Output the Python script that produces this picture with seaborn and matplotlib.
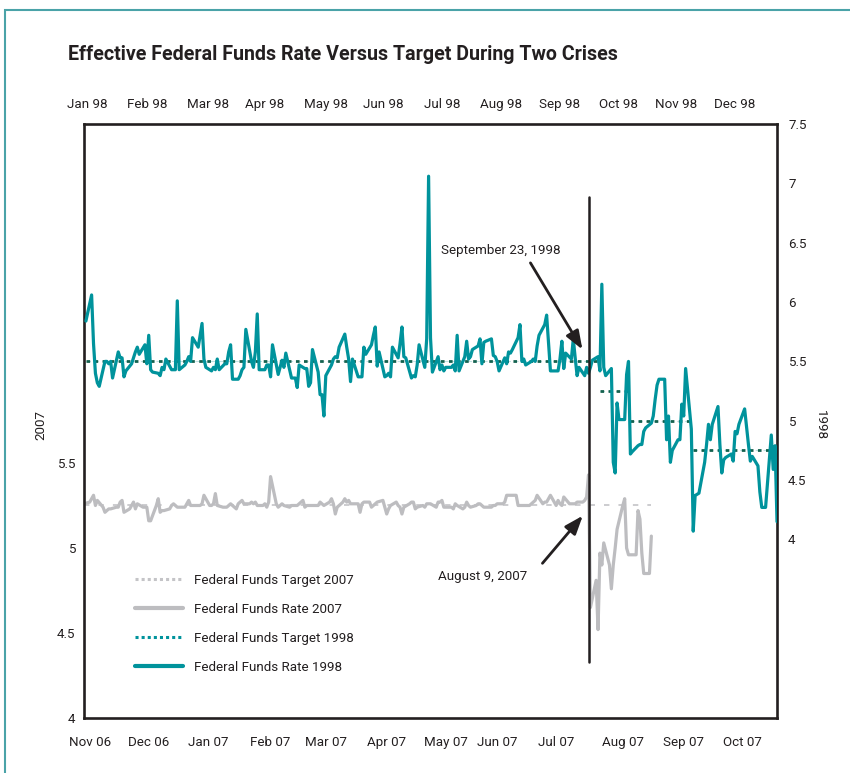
import numpy as np
import pandas as pd
import seaborn as sns
import matplotlib.pyplot as plt
from matplotlib.lines import Line2D
from matplotlib.patches import Rectangle

# 1998 effective fed funds rate, business days (before / after Sep 23, 1998)
rate_1998_pre = [
    5.84, 6.06, 5.65, 5.40, 5.32, 5.29, 5.50, 5.50, 5.48, 5.50,
    5.36, 5.58, 5.53, 5.53, 5.37, 5.42, 5.48, 5.53, 5.58, 5.62,
    5.56, 5.64, 5.48, 5.72, 5.43, 5.41, 5.40, 5.38, 5.45, 5.43,
    5.52, 5.43, 5.43, 5.43, 6.01, 5.43, 5.47, 5.50, 5.54, 5.50,
    5.70, 5.62, 5.72, 5.82, 5.52, 5.45, 5.42, 5.45, 5.43, 5.52,
    5.43, 5.48, 5.48, 5.58, 5.64, 5.35, 5.35, 5.38, 5.43, 5.45,
    5.77, 5.50, 5.45, 5.58, 5.90, 5.43, 5.43, 5.47, 5.47, 5.37,
    5.64, 5.39, 5.45, 5.51, 5.45, 5.57, 5.36, 5.36, 5.36, 5.28,
    5.47, 5.44, 5.44, 5.29, 5.32, 5.60, 5.41, 5.22, 5.22, 5.04,
    5.38, 5.47, 5.52, 5.54, 5.53, 5.62, 5.73, 5.62, 5.52, 5.33,
    5.52, 5.37, 5.37, 5.37, 5.62, 5.56, 5.64, 5.72, 5.79, 5.46,
    5.58, 5.37, 5.38, 5.40, 5.37, 5.62, 5.53, 5.65, 5.79, 5.54,
    5.53, 5.36, 5.38, 5.37, 5.47, 5.64, 5.45, 5.69, 7.06, 5.70,
    5.41, 5.54, 5.43, 5.47, 5.42, 5.45, 5.45, 5.47, 5.42, 5.72,
    5.42, 5.54, 5.67, 5.52, 5.54, 5.60, 5.63, 5.69, 5.48, 5.66,
    5.67, 5.69, 5.55, 5.54, 5.50, 5.42, 5.53, 5.48, 5.58, 5.57,
    5.60, 5.70, 5.81, 5.50, 5.52, 5.47, 5.50, 5.52, 5.50, 5.63,
    5.72, 5.81, 5.89, 5.66, 5.42, 5.42, 5.42, 5.52, 5.67, 5.44,
    5.57, 5.52, 5.69, 5.53, 5.38, 5.45, 5.38, 5.45, 5.40,
]
rate_1998_post = [
    5.45, 5.51, 5.54, 5.42, 6.15, 5.45, 5.38, 5.44, 4.65, 4.56, 5.15,
    5.01, 5.01, 5.39, 5.50, 4.72, 4.74, 4.79, 4.80, 4.80, 4.91,
    4.94, 4.98, 5.04, 5.18, 5.30, 5.35, 5.35, 4.84, 5.04, 4.65,
    4.75, 4.84, 4.84, 5.14, 5.04, 5.44, 4.93, 4.07, 4.37, 4.38,
    4.39, 4.65, 4.80, 4.97, 4.84, 4.97, 5.12, 4.80, 4.56, 4.67,
    4.69, 4.72, 4.66, 4.91, 4.89, 4.97, 5.10, 4.95, 4.80, 4.66,
    4.70, 4.62, 4.40, 4.27, 4.27, 4.27, 4.88, 4.59, 4.79, 4.15,
]
target_1998_dates = ["1998-01-02", "1998-09-29", "1998-10-15", "1998-11-17"]
target_1998_levels = [5.5, 5.25, 5.0, 4.75]

# 2007 effective fed funds rate, business days (before / after Aug 9, 2007)
rate_2007_pre = [
    5.26, 5.27, 5.29, 5.31, 5.25, 5.28, 5.24, 5.21, 5.22, 5.23,
    5.23, 5.24, 5.24, 5.27, 5.28, 5.21, 5.23, 5.25, 5.27, 5.23,
    5.26, 5.24, 5.24, 5.24, 5.16, 5.16, 5.25, 5.29, 5.21, 5.22,
    5.22, 5.23, 5.25, 5.26, 5.25, 5.24, 5.24, 5.24, 5.26, 5.28,
    5.25, 5.25, 5.25, 5.25, 5.26, 5.31, 5.25, 5.25, 5.26, 5.32,
    5.25, 5.24, 5.24, 5.24, 5.25, 5.26, 5.23, 5.26, 5.27, 5.28,
    5.26, 5.26, 5.27, 5.26, 5.27, 5.25, 5.25, 5.26, 5.24, 5.27,
    5.42, 5.26, 5.24, 5.25, 5.26, 5.25, 5.24, 5.25, 5.25, 5.25,
    5.25, 5.28, 5.24, 5.25, 5.25, 5.25, 5.25, 5.25, 5.27, 5.26,
    5.25, 5.27, 5.29, 5.26, 5.20, 5.24, 5.27, 5.29, 5.27, 5.28,
    5.26, 5.26, 5.26, 5.21, 5.26, 5.27, 5.27, 5.24, 5.25, 5.26,
    5.27, 5.28, 5.24, 5.20, 5.23, 5.25, 5.27, 5.25, 5.24, 5.20,
    5.24, 5.26, 5.27, 5.27, 5.23, 5.24, 5.25, 5.24, 5.26, 5.26,
    5.26, 5.24, 5.27, 5.27, 5.28, 5.24, 5.24, 5.24, 5.23, 5.26,
    5.25, 5.23, 5.24, 5.27, 5.25, 5.24, 5.25, 5.26, 5.26, 5.25,
    5.24, 5.24, 5.24, 5.25, 5.25, 5.26, 5.26, 5.27, 5.31, 5.31,
    5.31, 5.31, 5.25, 5.25, 5.25, 5.25, 5.25, 5.26, 5.27, 5.28,
    5.31, 5.26, 5.27, 5.27, 5.29, 5.31, 5.25, 5.28, 5.26, 5.25,
    5.30, 5.26, 5.26, 5.26, 5.26, 5.27, 5.27, 5.28, 5.30, 5.43,
]
rate_2007_post = [
    4.65, 4.81, 4.52, 4.97, 4.90, 5.03, 4.90, 4.76, 4.90, 5.00,
    5.11, 5.25, 5.29, 5.00, 4.96, 4.96, 4.96, 5.22, 5.17, 4.97,
    4.85, 4.85, 5.07,
]
target_2007_dates = ["2006-11-01"]
target_2007_levels = [5.25]

event_1998 = pd.Timestamp("1998-09-23")
event_2007 = pd.Timestamp("2007-08-09")

top_labels = ["Jan 98", "Feb 98", "Mar 98", "Apr 98", "May 98", "Jun 98",
              "Jul 98", "Aug 98", "Sep 98", "Oct 98", "Nov 98", "Dec 98"]
top_label_dates = ["1998-01-03", "1998-02-03", "1998-03-07", "1998-04-06",
                   "1998-05-08", "1998-06-07", "1998-07-08", "1998-08-08",
                   "1998-09-08", "1998-10-09", "1998-11-08", "1998-12-09"]
bottom_labels = ["Nov 06", "Dec 06", "Jan 07", "Feb 07", "Mar 07", "Apr 07",
                 "May 07", "Jun 07", "Jul 07", "Aug 07", "Sep 07", "Oct 07"]
bottom_label_dates = ["2006-11-20", "2006-12-21", "2007-01-21", "2007-02-23",
                      "2007-03-24", "2007-04-25", "2007-05-26", "2007-06-22",
                      "2007-07-23", "2007-08-27", "2007-09-28", "2007-10-29"]


def build(pre, post, event, t_dates, t_levels):
    dates = pd.bdate_range(end=event, periods=len(pre)).append(
        pd.bdate_range(start=event + pd.Timedelta(days=1), periods=len(post)))
    df = pd.DataFrame({"date": dates, "rate": pre + post})
    df["day"] = (df["date"] - event).dt.days
    idx = np.searchsorted(pd.to_datetime(t_dates), df["date"], side="right") - 1
    df["target"] = np.array(t_levels)[idx]
    return df


df98 = build(rate_1998_pre, rate_1998_post, event_1998, target_1998_dates, target_1998_levels)
df07 = build(rate_2007_pre, rate_2007_post, event_2007, target_2007_dates, target_2007_levels)

teal = "#00939c"
gray = "#bdbdc0"
ink = "#231f20"
fs = 9.6

sns.set_theme(style="white")
plt.rcParams["font.family"] = ["Roboto", "DejaVu Sans"]
plt.rcParams["text.color"] = ink

fig = plt.figure(figsize=(8.5, 7.73), dpi=100)
ax = fig.add_axes([84 / 850, 55 / 773, 693 / 850, 594 / 773])
ax2 = ax.twinx()

# 2007 on left/bottom axes
sns.lineplot(data=df07, x="day", y="target", ax=ax, color="#c8c8cb", lw=1.3,
             linestyle=(0, (3, 5)), legend=False)
sns.lineplot(data=df07, x="day", y="rate", ax=ax, color=gray, lw=2.3, legend=False)

# 1998 on right/top axes; each target level drawn as its own segment
sns.lineplot(data=df98, x="day", y="target", units="target", estimator=None, ax=ax2,
             color="#bfe2e2", lw=0.8, linestyle=(0, (4, 3)), legend=False)
sns.lineplot(data=df98, x="day", y="target", units="target", estimator=None, ax=ax2,
             color="#14614f", lw=2.0, linestyle=(0, (1.3, 1.6)), legend=False)
sns.lineplot(data=df98, x="day", y="rate", ax=ax2, color=teal, lw=2.3, legend=False)

xmin = (pd.Timestamp("1998-01-01") - event_1998).days
xmax = (pd.Timestamp("1998-12-31") - event_1998).days
ax.set_xlim(xmin, xmax)
ax.set_ylim(4, 7.494)
ax2.set_ylim(2.496, 7.5)

ax.set_yticks([4, 4.5, 5, 5.5], ["4", "4.5", "5", "5.5"])
ax2.set_yticks([4, 4.5, 5, 5.5, 6, 6.5, 7, 7.5],
               ["4", "4.5", "5", "5.5", "6", "6.5", "7", "7.5"])
bottom_pos = [(pd.Timestamp(d) - event_2007).days for d in bottom_label_dates]
top_pos = [(pd.Timestamp(d) - event_1998).days for d in top_label_dates]
ax.set_xticks(bottom_pos, bottom_labels)
secax = ax.secondary_xaxis("top")
secax.set_xticks(top_pos, top_labels)

for a in (ax, ax2):
    a.set_xlabel("")
    a.set_ylabel("")
    a.grid(False)
ax.tick_params(axis="y", length=0, pad=6, labelsize=fs, labelcolor=ink)
ax.tick_params(axis="x", length=0, pad=13, labelsize=fs, labelcolor=ink)
ax2.tick_params(axis="y", length=0, pad=8, labelsize=fs, labelcolor=ink)
secax.tick_params(length=0, pad=9, labelsize=fs, labelcolor=ink)
for s in secax.spines.values():
    s.set_visible(False)
for s in ax2.spines.values():
    s.set_visible(False)
for s in ax.spines.values():
    s.set_visible(True)
    s.set_color(ink)
    s.set_linewidth(1.9)

# event line
ax2.axvline(0, ymin=0.094, ymax=0.877, color=ink, lw=1.8, zorder=6)

arrow = dict(arrowstyle="-|>,head_length=0.8,head_width=0.3", lw=2.0, color=ink,
             mutation_scale=14, shrinkA=0, shrinkB=0)
ax2.text(-46.2, 6.435, "September 23, 1998", fontsize=fs, ha="center", va="center")
ax2.annotate("", xy=(-3.2, 5.60), xytext=(-30.5, 6.33), arrowprops=arrow, zorder=7)
ax.text(-55.7, 4.83, "August 9, 2007", fontsize=fs, ha="center", va="center")
ax.annotate("", xy=(-3.0, 5.19), xytext=(-24.2, 4.91), arrowprops=arrow, zorder=7)

handles = [
    Line2D([], [], color="#c4c4c7", lw=2.2, linestyle=(0, (1, 1))),
    Line2D([], [], color=gray, lw=3),
    Line2D([], [], color=teal, lw=2.2, linestyle=(0, (1, 1))),
    Line2D([], [], color=teal, lw=3),
]
labels = ["Federal Funds Target 2007", "Federal Funds Rate 2007",
          "Federal Funds Target 1998", "Federal Funds Rate 1998"]
ax2.legend(handles, labels, loc="upper left", bbox_to_anchor=(135 / 850, 1 - 574 / 773),
           bbox_transform=fig.transFigure, frameon=False, fontsize=fs,
           handlelength=3.6, handletextpad=0.8, labelspacing=1.2,
           borderpad=0, borderaxespad=0)

fig.text(68 / 850, 1 - 54 / 773, "Effective Federal Funds Rate Versus Target During Two Crises",
         fontsize=14.1, fontweight="bold", ha="left", va="center")
fig.text(41 / 850, 1 - 425 / 773, "2007", rotation=90, fontsize=fs, ha="center", va="center")
fig.text(820 / 850, 1 - 425 / 773, "1998", rotation=-90, fontsize=fs, ha="center", va="center")

fig.add_artist(Rectangle((5 / 850, -0.05), 2, 763 / 773 + 0.05, transform=fig.transFigure,
                         fill=False, edgecolor="#4aa3a8", lw=1.5))

fig.savefig("out.png", dpi=100)
